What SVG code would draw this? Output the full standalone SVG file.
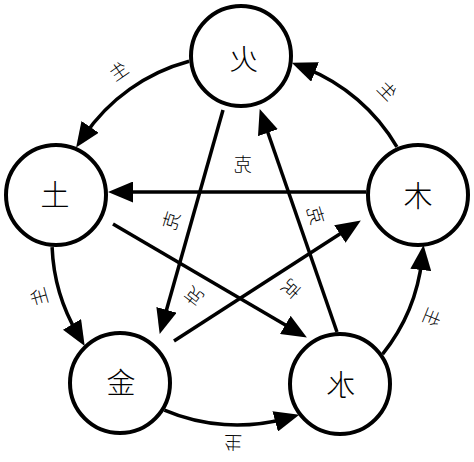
<svg xmlns="http://www.w3.org/2000/svg" width="474" height="462" viewBox="0 0 474 462">
<style>
.node circle{fill:#fff;stroke:#000;stroke-width:4}
.node text{font-family:"Noto Sans CJK SC","Noto Sans CJK JP",sans-serif;font-size:29px;font-weight:300;text-anchor:middle;dominant-baseline:central;fill:#000}
.conn path{fill:none;stroke:#000;stroke-width:3.5;marker-end:url(#ah)}
.lbl{font-family:"Noto Sans CJK SC","Noto Sans CJK JP",sans-serif;font-size:18px;font-weight:300;text-anchor:middle;dominant-baseline:central;fill:#000}
</style>
<defs>
<marker id="ah" viewBox="0 0 25 21" markerWidth="25" markerHeight="21" refX="11" refY="10.5" orient="auto" markerUnits="userSpaceOnUse">
<path d="M0,0 L25,10.5 L0,21 z" fill="#000"/>
</marker>
</defs>
<rect width="474" height="462" fill="#fff"/>
<g id="connectors" class="conn">
<path d="M396.9,146.9 A185,185 0 0 0 304.8,67.9"/>
<path d="M189.1,61.3 A185,185 0 0 0 84,136"/>
<path d="M52.1,247.1 A185,185 0 0 0 77.6,333.9"/>
<path d="M164.4,410.2 A185,185 0 0 0 285.8,418.5"/>
<path d="M382.6,354.1 A185,185 0 0 0 422,259"/>
<path d="M223,110 L163.5,320.5"/>
<path d="M337,332 L264.3,122.3"/>
<path d="M366,192 L122,192"/>
<path d="M113,224 L294.8,330.4"/>
<path d="M174,341 L349.1,228"/>
</g>
<g id="labels">
<text class="lbl" transform="translate(118,70) scale(-1,1) rotate(35)">生</text>
<text class="lbl" transform="translate(388,90) scale(-1,1) rotate(-45)">生</text>
<text class="lbl" transform="translate(38,297) scale(-1,1) rotate(106)">生</text>
<text class="lbl" transform="translate(233,444) scale(-1,1) rotate(179)">生</text>
<text class="lbl" transform="translate(433,318) scale(-1,1) rotate(-112)">生</text>
<text class="lbl" transform="translate(243,163) scale(-1,1)">克</text>
<text class="lbl" transform="translate(170,220) scale(-1,1) rotate(73)">克</text>
<text class="lbl" transform="translate(193,297) scale(-1,1) rotate(142)">克</text>
<text class="lbl" transform="translate(317,215) scale(-1,1) rotate(-73)">克</text>
<text class="lbl" transform="translate(292,290) scale(-1,1) rotate(-132)">克</text>
</g>
<g id="fire" class="node"><circle cx="241" cy="56" r="50"/><text transform="translate(244,57) scale(-1,1)">火</text></g>
<g id="earth" class="node"><circle cx="56" cy="195" r="50"/><text transform="translate(55,193) scale(-1,1)">土</text></g>
<g id="wood" class="node"><circle cx="418" cy="195" r="50"/><text transform="translate(418,194) scale(-1,1)">木</text></g>
<g id="metal" class="node"><circle cx="120" cy="383" r="50"/><text transform="translate(121,381) scale(-1,1)">金</text></g>
<g id="water" class="node"><circle cx="340" cy="384" r="50"/><text transform="translate(341,383) scale(-1,1)">水</text></g>
</svg>
